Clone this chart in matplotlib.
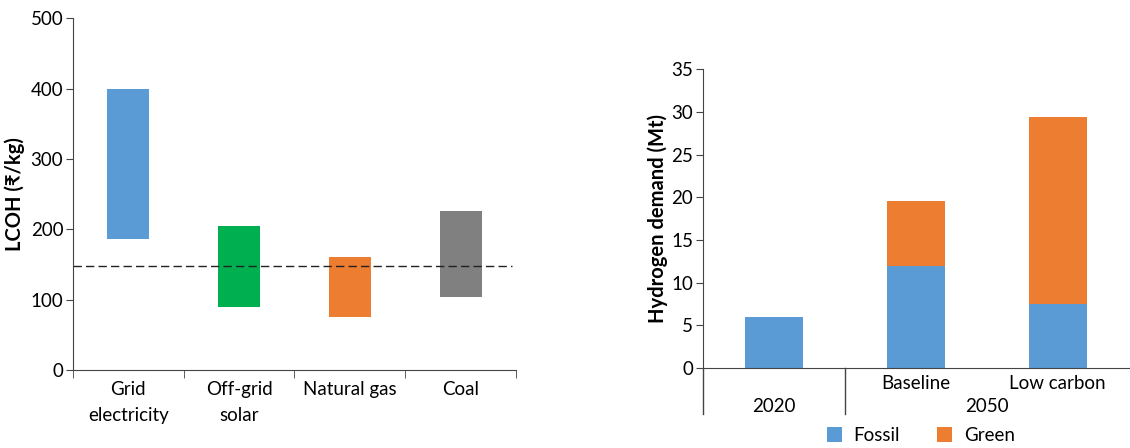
"""LCOH ranges by production route and hydrogen demand outlook."""

import matplotlib.pyplot as plt
from matplotlib.transforms import blended_transform_factory

plt.rcParams["font.family"] = ["Lato", "DejaVu Sans"]

# left panel: LCOH ranges
routes = ["Grid\nelectricity", "Off-grid\nsolar", "Natural gas", "Coal"]
lcoh_low = [186, 89, 76, 104]
lcoh_high = [400, 205, 161, 226]
route_colors = ["#5B9BD5", "#00B050", "#ED7D31", "#808080"]
lcoh_ref = 148

# right panel: hydrogen demand (Mt)
scenarios = ["", "Baseline", "Low carbon"]
years = ["2020", "2050"]
fossil = [6.0, 12.0, 7.5]
green = [0.0, 7.6, 21.9]

BLUE = "#5B9BD5"
ORANGE = "#ED7D31"
FS = 13.5
YFS = 14.5

fig = plt.figure(figsize=(11.3, 4.48), dpi=100)

# ---- left ----
ax1 = fig.add_axes([0.0646, 0.174, 0.392, 0.785])
x = range(len(routes))
ax1.bar(x, [h - l for h, l in zip(lcoh_high, lcoh_low)], bottom=lcoh_low,
        width=0.38, color=route_colors)
ax1.axhline(lcoh_ref, xmin=0, xmax=0.99, color="#222222", lw=1.0, ls=(0, (6, 3)))
ax1.set_xlim(-0.5, len(routes) - 0.5)
ax1.set_ylim(0, 500)
ax1.set_yticks(range(0, 501, 100))
ax1.set_xticks(list(x))
ax1.set_xticklabels(routes, fontsize=FS, linespacing=1.6)
ax1.set_xticks([i - 0.5 for i in range(len(routes) + 1)], minor=True)
ax1.tick_params(axis="x", which="major", length=0, pad=8)
ax1.tick_params(axis="x", which="minor", length=6, direction="out", color="#444444")
ax1.tick_params(axis="y", labelsize=FS, length=5, color="#444444", pad=2)
ax1.set_ylabel("LCOH (₹/kg)", fontsize=YFS, fontweight="bold", labelpad=4)
for s in ("top", "right"):
    ax1.spines[s].set_visible(False)
for s in ("left", "bottom"):
    ax1.spines[s].set_color("#444444")

# ---- right ----
ax2 = fig.add_axes([0.6219, 0.179, 0.377, 0.666])
xs = range(len(scenarios))
ax2.bar(xs, fossil, width=0.41, color=BLUE, label="Fossil")
ax2.bar(xs, green, width=0.41, bottom=fossil, color=ORANGE, label="Green")
ax2.set_xlim(-0.5, len(scenarios) - 0.5)
ax2.set_ylim(0, 35)
ax2.set_yticks(range(0, 36, 5))
ax2.set_xticks(list(xs))
ax2.set_xticklabels(scenarios, fontsize=FS)
ax2.tick_params(axis="x", length=0, pad=5)
ax2.tick_params(axis="y", labelsize=FS, length=5, color="#444444", pad=2)
ax2.set_ylabel("Hydrogen demand (Mt)", fontsize=YFS, fontweight="bold", labelpad=2)
for s in ("top", "right"):
    ax2.spines[s].set_visible(False)
for s in ("left", "bottom"):
    ax2.spines[s].set_color("#444444")

tr = blended_transform_factory(ax2.transData, ax2.transAxes)
for xpos in (-0.5, 0.5):
    ax2.plot([xpos, xpos], [0, -0.155], transform=tr, color="#444444",
             lw=1.0, clip_on=False)
ax2.text(0, -0.13, years[0], transform=tr, ha="center", va="center", fontsize=FS)
ax2.text(1.5, -0.13, years[1], transform=tr, ha="center", va="center", fontsize=FS)

fig.legend(loc="center", bbox_to_anchor=(0.815, 0.028), ncol=2, frameon=False,
           fontsize=FS, handlelength=0.8, handleheight=0.8, columnspacing=2.0,
           handletextpad=0.6)

fig.savefig("out.png", dpi=100)
